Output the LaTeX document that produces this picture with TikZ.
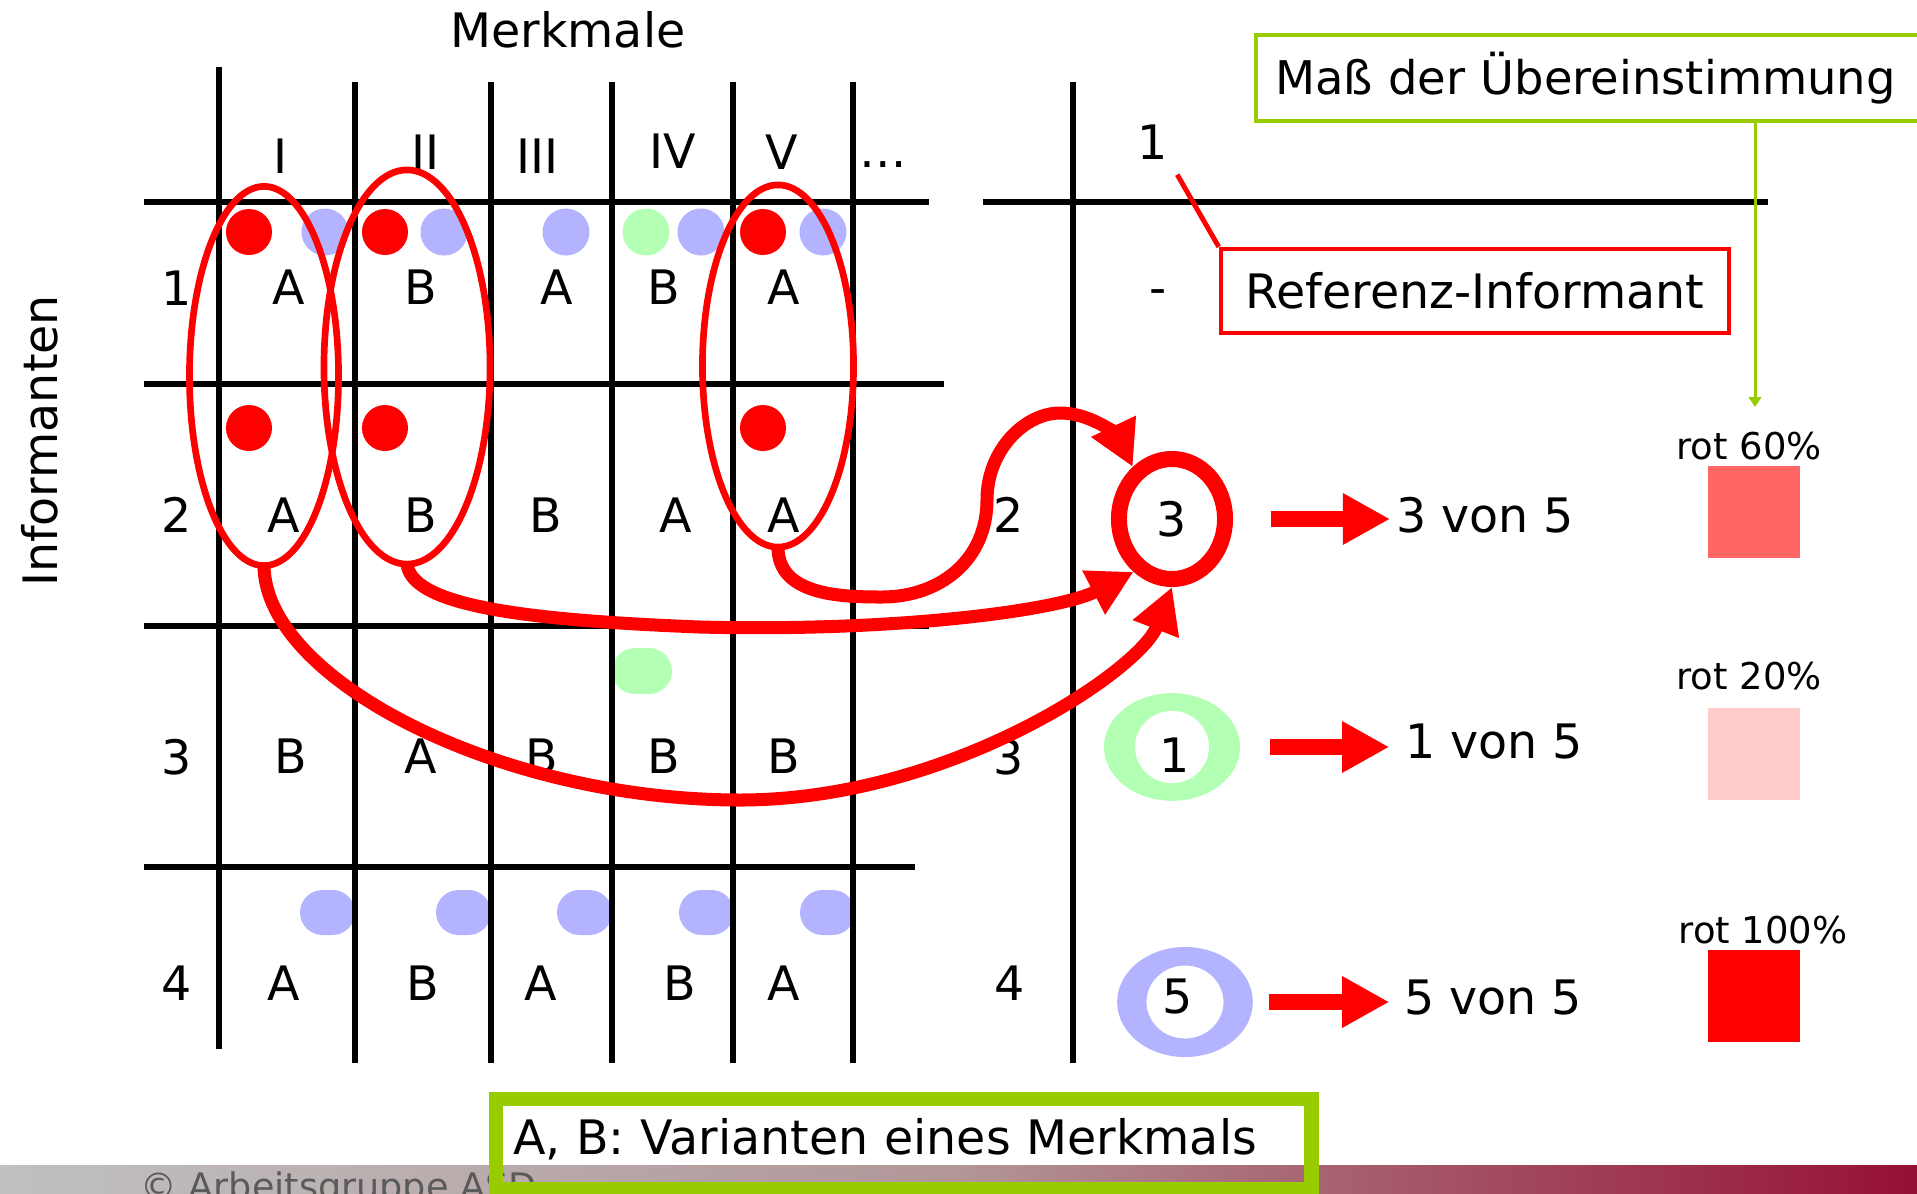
\documentclass[tikz,border=0pt]{standalone}
\usepackage{fontspec}
\setmainfont{DejaVu Sans}
\usepackage{tikz}
\usetikzlibrary{arrows.meta,shapes.geometric}
\definecolor{markred}{HTML}{FF0000}
\definecolor{dotblue}{HTML}{B3B3FF}
\definecolor{dotgreen}{HTML}{B3FFB3}
\definecolor{boxgreen}{HTML}{99CC00}
\definecolor{rotsixty}{HTML}{FF6666}
\definecolor{rottwenty}{HTML}{FFCCCC}
\definecolor{footgray}{RGB}{192,192,192}
\definecolor{footmid}{RGB}{178,150,152}
\definecolor{footred}{RGB}{150,16,52}
\definecolor{footink}{RGB}{90,90,90}

\begin{document}
\begin{tikzpicture}[x=0.01cm,y=-0.01cm,
    every node/.style={font=\fontsize{13.5pt}{16pt}\selectfont,inner sep=0pt},
    pct/.style={font=\fontsize{10.5pt}{12pt}\selectfont},
    gridline/.style={line width=1.5pt},
    sel/.style={draw=markred,line width=1.9pt,ellipse,outer sep=0pt},
    flow/.style={draw=markred,line width=3.7pt,-{Triangle[width=13.2pt,length=12.8pt]}},
    block/.style={draw=markred,line width=4.55pt,-{Triangle[width=13.7pt,length=13.4pt]}},
    swatch/.style={minimum width=0.92cm,minimum height=0.915cm},
    measline/.style={draw=boxgreen,line width=0.85pt,-{Triangle[width=3.5pt,length=2.8pt]}}]
    \useasboundingbox (0,0) rectangle (1917,1193);

    % footer bar
    \shade[left color=footgray,right color=footmid] (0,1165) rectangle (959,1193);
    \shade[left color=footmid,right color=footred] (958,1165) rectangle (1917,1193);
    \node[font=\fontsize{10.4pt}{12pt}\selectfont,text=footink,anchor=base west] (copy) at (140,1199) {© Arbeitsgruppe ASD};

    % dots
    \fill[markred] (249,232) circle[radius=0.23cm];
    \fill[markred] (385,232) circle[radius=0.23cm];
    \fill[markred] (763,232) circle[radius=0.23cm];
    \fill[markred] (249,428) circle[radius=0.23cm];
    \fill[markred] (385,428) circle[radius=0.23cm];
    \fill[markred] (763,428) circle[radius=0.23cm];
    \fill[dotblue] (325,232) circle[radius=0.235cm];
    \fill[dotblue] (444,232) circle[radius=0.235cm];
    \fill[dotblue] (566,232) circle[radius=0.235cm];
    \fill[dotblue] (701,232) circle[radius=0.235cm];
    \fill[dotblue] (823,232) circle[radius=0.235cm];
    \fill[dotgreen] (646,232) circle[radius=0.235cm];
    \fill[dotgreen,rounded corners=0.23cm] (612,648) rectangle (672,694);
    \fill[dotblue,rounded corners=0.225cm] (300,890) rectangle (355,935);
    \fill[dotblue,rounded corners=0.225cm] (436,890) rectangle (491,935);
    \fill[dotblue,rounded corners=0.225cm] (557,890) rectangle (612,935);
    \fill[dotblue,rounded corners=0.225cm] (679,890) rectangle (734,935);
    \fill[dotblue,rounded corners=0.225cm] (800,890) rectangle (855,935);

    % table lines
    \draw[gridline] (219,67) -- (219,1049);
    \draw[gridline] (355,82) -- (355,1063);
    \draw[gridline] (491,82) -- (491,1063);
    \draw[gridline] (612,82) -- (612,1063);
    \draw[gridline] (733,82) -- (733,1063);
    \draw[gridline] (853,82) -- (853,1063);
    \draw[gridline] (144,202) -- (929,202);
    \draw[gridline] (144,384) -- (944,384);
    \draw[gridline] (144,626) -- (929,626);
    \draw[gridline] (144,867) -- (915,867);
    \draw[gridline] (1073,82) -- (1073,1063);
    \draw[gridline] (983,202) -- (1768,202);

    % headers
    \node (merk) at (568,30) {Merkmale};
    \node (mI) at (280,156) {I};
    \node (mII) at (425,152) {II};
    \node (mIII) at (537,156) {III};
    \node (mIV) at (673,151) {IV};
    \node (mV) at (782,152) {V};
    \node (mdots) at (883,165) {\dots};
    \node[rotate=90] (inf) at (40,441) {Informanten};
    \node (i1) at (177,288) {1};
    \node (i2) at (177,515) {2};
    \node (i3) at (177,757) {3};
    \node (i4) at (177,983) {4};

    % values
    \node (c11) at (289,287) {A};
    \node (c12) at (421,287) {B};
    \node (c13) at (557,287) {A};
    \node (c14) at (664,287) {B};
    \node (c15) at (784,287) {A};
    \node (c21) at (284,515) {A};
    \node (c22) at (421,515) {B};
    \node (c23) at (546,515) {B};
    \node (c24) at (676,515) {A};
    \node (c25) at (784,515) {A};
    \node (c31) at (291,756) {B};
    \node (c32) at (421,756) {A};
    \node (c33) at (542,756) {B};
    \node (c34) at (664,756) {B};
    \node (c35) at (784,756) {B};
    \node (c41) at (284,983) {A};
    \node (c42) at (423,983) {B};
    \node (c43) at (541,983) {A};
    \node (c44) at (680,983) {B};
    \node (c45) at (784,983) {A};

    % right table
    \node (ref1) at (1153,142) {1};
    \node (dash) at (1158,297) {-};
    \node (j2) at (1009,515) {2};
    \node (j3) at (1009,757) {3};
    \node (j4) at (1010,983) {4};

    % selected columns
    \node[sel,minimum width=1.49cm,minimum height=3.79cm] (selI) at (264,376) {};
    \node[sel,minimum width=1.66cm,minimum height=3.94cm] (selII) at (407,367) {};
    \node[sel,minimum width=1.51cm,minimum height=3.62cm] (selV) at (778,366) {};

    % counts
    \node[draw=markred,line width=4.55pt,ellipse,minimum width=1.06cm,minimum height=1.2cm] (r3) at (1172,519) {3};
    \coordinate (c1) at (1172,747);
    \fill[dotgreen,even odd rule] (c1) ellipse[x radius=0.68cm,y radius=0.538cm]
        (c1) ellipse[x radius=0.37cm,y radius=0.362cm];
    \node (n1) at (1175,755) {1};
    \coordinate (c5) at (1185,1002);
    \fill[dotblue,even odd rule] (c5) ellipse[x radius=0.678cm,y radius=0.55cm]
        (c5) ellipse[x radius=0.385cm,y radius=0.365cm];
    \node (n5) at (1178,997) {5};

    \node (t3) at (1485,515) {3 von 5};
    \node (t1) at (1494,742) {1 von 5};
    \node (t5) at (1493,998) {5 von 5};
    \draw[block,shorten <=10.7pt,shorten >=1.5pt] (r3.east) -- (r3.east -| t3.west);
    \draw[block,shorten <=28pt,shorten >=4.3pt] (c1) -- (c1 -| t1.west);
    \draw[block,shorten <=24pt,shorten >=4pt] (c5) -- (c5 -| t5.west);

    \node[pct] (lab60) at (1749,446) {rot 60\%};
    \node[pct] (lab20) at (1749,676) {rot 20\%};
    \node[pct] (lab100) at (1763,930) {rot 100\%};
    \node[swatch,fill=rotsixty] (sq60) at (1754,512) {};
    \node[swatch,fill=rottwenty] (sq20) at (1754,754) {};
    \node[swatch,fill=markred] (sq100) at (1754,996) {};

    % matches with the reference
    \draw[flow] (selV.south) .. controls (778,595) and (840,597) .. (882,597)
        .. controls (940,597) and (987,560) .. (987,500)
        .. controls (987,450) and (1025,413) .. (1060,413)
        .. controls (1095,413) and (1120,440) .. (r3.127);
    \draw[flow] (selII.south) .. controls (412,605) and (520,620) .. (700,627)
        .. controls (900,632) and (1060,610) .. (r3.234);
    \draw[flow] (selI.south) .. controls (265,680) and (500,800) .. (740,800)
        .. controls (950,800) and (1140,670) .. (r3.south);

    % callouts
    \node[draw=markred,fill=white,line width=1.2pt,minimum width=5.08cm,minimum height=0.84cm] (refbox) at (1475,291) {Referenz-Informant};
    \draw[draw=markred,line width=1.4pt,shorten <=4.8pt] (ref1.south east) -- (refbox.north west);
    \node[draw=boxgreen,fill=white,line width=1.14pt,anchor=west,inner xsep=0.19cm,text width=6.46cm,minimum height=0.86cm,align=left,font=\fontsize{13.2pt}{16pt}\selectfont] (mass) at (1254,78) {Maß der Übereinstimmung};
    \coordinate (meastip) at (1755,407);
    \draw[measline] (mass.south -| meastip) -- (meastip);
    \node[draw=boxgreen,line width=4pt,anchor=west,inner xsep=0.17cm,text width=7.81cm,text depth=4.4pt,minimum height=0.9cm,align=left] (legend) at (489,1144) {A, B: Varianten eines Merkmals};
\end{tikzpicture}
\end{document}
